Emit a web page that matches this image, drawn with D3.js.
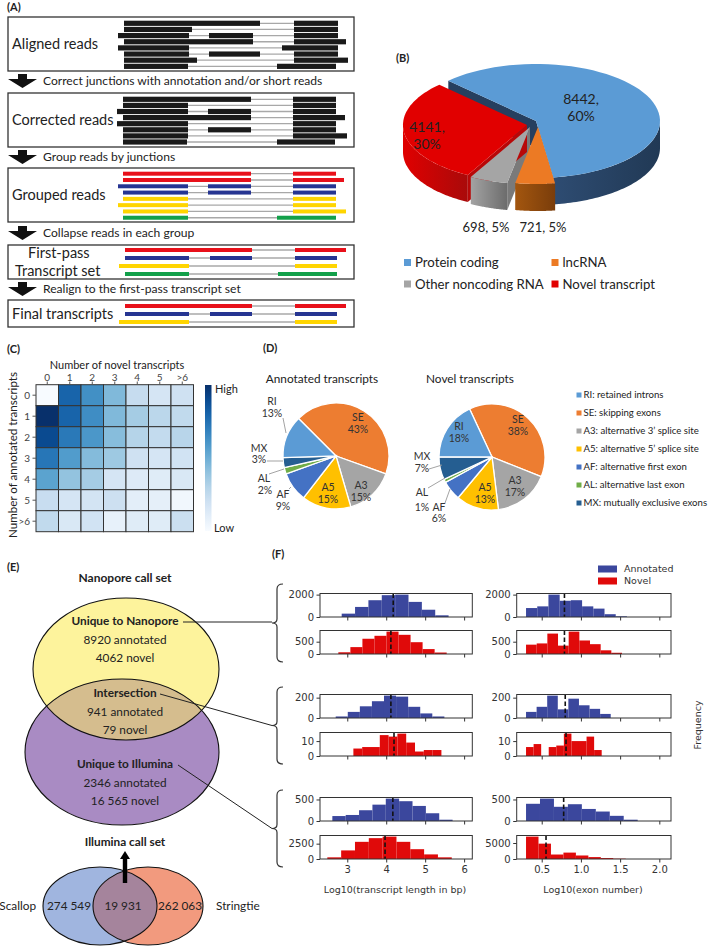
<!DOCTYPE html>
<html><head><meta charset="utf-8">
<script src="https://cdn.jsdelivr.net/npm/d3@7"></script>
<style>
body{margin:0;background:#fff}
svg{display:block}
text{font-family:Lato,'Open Sans',sans-serif;fill:#222}
.mpl text{font-family:'DejaVu Sans',sans-serif}
</style></head>
<body><svg id="c" width="709" height="947"></svg>
<script>
// ================= DATA =================
// Panel A: schematic reads (genome coordinates), grouped by step
const stepLabels = ["Correct junctions with annotation and/or short reads","Group reads by junctions","Collapse reads in each group","Realign to the first-pass transcript set"];
const boxLabels = [["Aligned reads"],["Corrected reads"],["Grouped reads"],["First-pass","Transcript set"],["Final transcripts"]];
const alignedReads = [
  ["k",[[12,148],[182,226]]],["k",[[12,80],[182,226]]],["k",[[6,77],[97,141],[182,226]]],["k",[[12,141],[182,234]]],
  ["k",[[6,77],[170,226]]],["k",[[12,77],[97,148],[182,226]]],["k",[[12,85],[182,236]]],["k",[[12,76],[165,224]]]];
const correctedReads = [
  ["k",[[11,139],[181,224]]],["k",[[11,76],[181,224]]],["k",[[5,76],[96,139],[181,224]]],["k",[[11,139],[181,233]]],
  ["k",[[5,76],[181,224]]],["k",[[11,76],[96,139],[181,224]]],["k",[[11,76],[181,235]]],["k",[[11,75],[165,223]]]];
const groupedReads = [
  ["r",[[11,139],[181,224]]],["r",[[11,139],[181,232]]],["b",[[6,76],[96,139],[181,224]]],["b",[[11,76],[96,139],[181,224]]],
  ["y",[[11,76],[181,224]]],["y",[[6,76],[181,224]]],["y",[[11,76],[181,234]]],["g",[[11,76],[165,224]]]];
const firstPassReads = [
  ["r",[[13,140],[183,234]]],["b",[[13,77],[98,140],[183,225]]],["y",[[7,77],[183,225]]],["g",[[13,77],[166,225]]]];
const finalReads = [
  ["r",[[13,140],[183,234]]],["b",[[13,77],[98,140],[183,225]]],["y",[[7,77],[183,225]]]];

// Panel B
const bCategories = ["Protein coding","lncRNA","Other noncoding RNA","Novel transcript"];
const bValues = [8442,721,698,4141];
const bPercent = ["60%","5%","5%","30%"];

// Panel C
const cTicks = ["0","1","2","3","4","5",">6"];
const cValues = [
  [0.00,0.80,0.63,0.45,0.24,0.17,0.20],
  [1.00,0.80,0.64,0.45,0.35,0.28,0.26],
  [0.90,0.72,0.60,0.43,0.30,0.25,0.29],
  [0.73,0.58,0.44,0.37,0.20,0.17,0.19],
  [0.55,0.40,0.35,0.17,0.13,0.12,0.15],
  [0.23,0.17,0.18,0.21,0.10,0.09,0.03],
  [0.26,0.15,0.19,0.08,0.12,0.12,0.22]];

// Panel D
const dCodes = ["SE","A3","A5","AF","AL","MX","RI"];
const dLegend = ["RI: retained introns","SE: skipping exons","A3: alternative 3\u2019 splice site","A5: alternative 5\u2019 splice site","AF: alternative first exon","AL: alternative last exon","MX: mutually exclusive exons"];
const dLegendCodes = ["RI","SE","A3","A5","AF","AL","MX"];
const dAnnotated = [43,15,15,9,2,3,13];
const dNovel = [38,17,13,6,1,7,18];

// Panel E
const eNanopore = ["Unique to Nanopore","8920 annotated","4062 novel"];
const eIntersection = ["Intersection","941 annotated","79 novel"];
const eIllumina = ["Unique to Illumina","2346 annotated","16 565 novel"];
const eBottom = ["Scallop","274 549","19 931","262 063","Stringtie"];

// Panel F (histograms; rows: Nanopore ann/novel, Intersection ann/novel, Illumina ann/novel)
const fLenStart = [2.857,2.771,2.703,3.157,2.617,2.488];
const fLenWidth = [0.343,0.309,0.310,0.226,0.343,0.355];
const fLenCounts = [
  [300,900,1500,1950,2000,1350,650,150],
  [70,280,620,740,910,780,480,200,60],
  [15,60,115,165,220,210,110,45,15],
  [5,6,6,14,13,15,9,3,4,4],
  [115,140,250,380,520,460,350,180,30],
  [270,1400,2800,3400,3650,2800,1600,750,270]];
const fLenMedian = [4.18,4.12,4.12,4.20,4.17,3.97];
const fExStart = [0.30,0.30,0.30,0.30,0.30,0.30];
const fExWidth = [0.143,0.136,0.135,0.0965,0.178,0.159];
const fExCounts = [
  [800,950,2000,1450,1500,950,750,250,60],
  [380,430,830,340,910,550,400,150,50],
  [60,110,220,85,190,125,90,40],
  [6,8,0,6,7,15,10,10,13,4],
  [400,520,330,390,280,220,120,30],
  [7000,4800,1400,2000,1100,600,300,100]];
const fExMedian = [0.79,0.79,0.80,0.81,0.78,0.555];
const fLenYTicks = [[0,2000],[0,500],[0,200],[0,10],[0,500],[0,2500]];
const fExYTicks = [[0,2000],[0,500],[0,200],[0,10],[0,500],[0,5000]];
const fLenXTicks = [3,4,5,6];
const fExXTicks = [0.5,1.0,1.5,2.0];
const fSeries = ["Annotated","Novel"];

// ================= DRAW =================
const svg = d3.select("#c");
const defs = svg.append("defs");
function txt(g,x,y,s,o={}){
  const t=g.append("text").attr("x",x).attr("y",y).attr("dy",o.dy||"0.35em").text(s)
   .attr("font-size",o.size||12).attr("text-anchor",o.anchor||"start");
  if(o.weight) t.attr("font-weight",o.weight);
  if(o.fill) t.style("fill",o.fill);
  if(o.rotate) t.attr("transform",`rotate(${o.rotate},${x},${y})`);
  return t;
}
function letter(x,y,s){txt(svg,x,y,s,{size:11,weight:"bold"});}

// ---------- Panel A ----------
letter(7,7,"(A)");
const A = svg.append("g");
const xg = d3.scaleLinear().domain([0,240]).range([112,352]);
const readColor = {k:"#1a1a1a",r:"#e8101a",b:"#263592",y:"#ffd500",g:"#12a04a"};
const boxTop=[17,93,168,245,300], boxBot=[71,147,222,279,327];
const rowTop=[23.3,99.3,173.7,250,306], rowStep=[6.15,6.1,6.29,8,8];
const readSets=[alignedReads,correctedReads,groupedReads,firstPassReads,finalReads];
readSets.forEach((set,bi)=>{
  A.append("rect").attr("x",8).attr("y",boxTop[bi]).attr("width",346).attr("height",boxBot[bi]-boxTop[bi])
   .attr("fill","none").attr("stroke","#333").attr("stroke-width",1.3);
  const ys=d3.scaleLinear().domain([0,1]).range([rowTop[bi],rowTop[bi]+rowStep[bi]]);
  set.forEach((rd,i)=>{
    const ex=rd[1], y=ys(i), hh=rd[0]==="k"?5.2:4;
    A.append("line").attr("x1",xg(ex[0][0])).attr("x2",xg(ex[ex.length-1][1])).attr("y1",y).attr("y2",y)
      .attr("stroke","#a8a8a8").attr("stroke-width",1.3);
    ex.forEach(e=>A.append("rect").attr("x",xg(e[0])).attr("width",xg(e[1])-xg(e[0])).attr("y",y-hh/2).attr("height",hh)
      .attr("fill",readColor[rd[0]]));
  });
  const lab=boxLabels[bi];
  const cy=(boxTop[bi]+boxBot[bi])/2;
  if(lab.length===1) txt(A,12,cy,lab[0],{size:14.5});
  else { txt(A,28,cy-9,lab[0],{size:14.5}); txt(A,15,cy+9,lab[1],{size:14.5}); }
});
const stepY=[81,157,233,289];
stepLabels.forEach((s,i)=>{
  const c=stepY[i];
  A.append("path").attr("d",`M18,${c-7}H27V${c-2}H37L22.5,${c+7}L8,${c-2}H18Z`).attr("fill","#111");
  txt(A,43,c,s,{size:12.1});
});

// ---------- Panel B (3D pie) ----------
letter(396,58,"(B)");
const B=svg.append("g");
const P={cx:532,cy:122,rx:124,ry:57,depth:27};
const bTop=["#5b9bd5","#ec7a24","#a5a5a5","#e10000"];
const bWall=[["#2e4c72","#213955"],["#a3560f","#7a3d0b"],["#a3a3a3","#6c6c6c"],["#e00000","#a90a0a"]];
const bCut=["#263f5f","#8a470d","#7a7a7a","#b80808"];
const bOff=[[4,-1],[6,5],[-2,5],[-5,3]];
bWall.forEach((w,i)=>{
  const lg=defs.append("linearGradient").attr("id","bw"+i).attr("x1","0").attr("x2","1").attr("y1","0").attr("y2","0");
  lg.append("stop").attr("offset","0").attr("stop-color",w[0]);
  lg.append("stop").attr("offset","1").attr("stop-color",w[1]);
});
const arcsB=d3.pie().sort(null).startAngle(-45*Math.PI/180).endAngle(315*Math.PI/180)(bValues);
const rim=(a,o,z)=>[P.cx+o[0]+P.rx*Math.sin(a), P.cy+o[1]-P.ry*Math.cos(a)+z];
const apex=(o,z)=>[P.cx+o[0],P.cy+o[1]+z];
const arcPts=(a0,a1,o,z)=>d3.range(0,61).map(k=>rim(a0+(a1-a0)*k/60,o,z));
const lineGen=d3.line();
// radial cut walls (only those facing the viewer)
arcsB.forEach((d,i)=>{
  const o=bOff[i], walls=[];
  if(Math.sin(d.startAngle)<0) walls.push(d.startAngle);
  if(Math.sin(d.endAngle)>0) walls.push(d.endAngle);
  walls.forEach(a=>B.append("path").attr("d",lineGen([apex(o,0),rim(a,o,0),rim(a,o,P.depth),apex(o,P.depth)])+"Z").attr("fill",bCut[i]));
});
// outer walls
arcsB.forEach((d,i)=>{
  const o=bOff[i];
  const lo=Math.max(d.startAngle,Math.PI/2), hi=Math.min(d.endAngle,3*Math.PI/2);
  if(hi<=lo) return;
  const pts=arcPts(lo,hi,o,0).concat(arcPts(lo,hi,o,P.depth).reverse());
  B.append("path").attr("d",lineGen(pts)+"Z").attr("fill",`url(#bw${i})`);
});
// top faces
arcsB.forEach((d,i)=>{
  const o=bOff[i];
  B.append("path").attr("d",lineGen([apex(o,0)].concat(arcPts(d.startAngle,d.endAngle,o,0)))+"Z").attr("fill",bTop[i]);
});
txt(B,581,99,bValues[0]+",",{size:14,anchor:"middle"});
txt(B,581,116,bPercent[0],{size:14,anchor:"middle"});
txt(B,427,127,bValues[3]+",",{size:14,anchor:"middle"});
txt(B,427,144,bPercent[3],{size:14,anchor:"middle"});
txt(B,486,227,bValues[2]+", "+bPercent[2],{size:13,anchor:"middle"});
txt(B,543,227,bValues[1]+", "+bPercent[1],{size:13,anchor:"middle"});
const bLegPos=[[404,262.5],[551.5,262.5],[404,284],[551.5,284]];
bCategories.forEach((c,i)=>{
  const p=bLegPos[i];
  B.append("rect").attr("x",p[0]).attr("y",p[1]-3.5).attr("width",7).attr("height",7).attr("fill",bTop[i]);
  txt(B,p[0]+11,p[1],c,{size:13.2});
});

// ---------- Panel C (heatmap) ----------
letter(7,349,"(C)");
const C=svg.append("g");
const cx=d3.scaleBand().domain(cTicks).range([36,193.5]);
const cy=d3.scaleBand().domain(cTicks).range([384.7,531.7]);
const cColor=v=>d3.interpolateBlues(v);
cValues.forEach((row,r)=>row.forEach((v,c)=>{
  C.append("rect").attr("x",cx(cTicks[c])).attr("y",cy(cTicks[r])).attr("width",cx.bandwidth()).attr("height",cy.bandwidth())
   .attr("fill",cColor(v)).attr("stroke","#333").attr("stroke-width",1);
}));
cTicks.forEach(t=>{
  const x=cx(t)+cx.bandwidth()/2;
  txt(C,x,377.5,t,{size:10,anchor:"middle",fill:"#444"});
  C.append("line").attr("x1",x).attr("x2",x).attr("y1",381.5).attr("y2",384.7).attr("stroke","#555");
  const y=cy(t)+cy.bandwidth()/2;
  txt(C,30,y,t,{size:10,anchor:"end",fill:"#444"});
  C.append("line").attr("x1",32.5).attr("x2",36).attr("y1",y).attr("y2",y).attr("stroke","#555");
});
txt(C,117,365,"Number of novel transcripts",{size:11,anchor:"middle"});
txt(C,13,455,"Number of annotated transcripts",{size:11.6,anchor:"middle",rotate:-90});
const cg=defs.append("linearGradient").attr("id","cbar").attr("x1","0").attr("x2","0").attr("y1","0").attr("y2","1");
d3.range(0,1.01,0.1).forEach(t=>cg.append("stop").attr("offset",t).attr("stop-color",cColor(1-t)));
C.append("rect").attr("x",205).attr("y",385).attr("width",6.5).attr("height",146).attr("fill","url(#cbar)");
txt(C,215,389,"High",{size:11});
txt(C,214,528,"Low",{size:11});

// ---------- Panel D (pies) ----------
letter(263,348,"(D)");
const D=svg.append("g");
const dColor=d3.scaleOrdinal().domain(["RI","SE","A3","A5","AF","AL","MX"])
  .range(["#5b9bd5","#ed7d31","#a5a5a5","#ffc000","#4472c4","#70ad47","#255e91"]);
function pieD(vals,cxp,cyp,start,title,titleX,inside,outside){
  const g=D.append("g").attr("transform",`translate(${cxp},${cyp})`);
  const arcs=d3.pie().sort(null).startAngle(start*Math.PI/180).endAngle((start+360)*Math.PI/180)(vals);
  const arc=d3.arc().innerRadius(0).outerRadius(53);
  g.selectAll("path").data(arcs).join("path").attr("d",arc).attr("fill",(d,i)=>dColor(dCodes[i]))
    .attr("stroke","#fff").attr("stroke-width",1.3);
  txt(D,titleX,379,title,{size:11.8,anchor:"middle"});
  inside.forEach(l=>{const i=dCodes.indexOf(l[0]);
    txt(D,l[1],l[2],dCodes[i],{size:10.5,anchor:"middle",fill:"#333"});
    txt(D,l[1],l[2]+12,vals[i]+"%",{size:10.5,anchor:"middle",fill:"#333"});});
  outside.forEach(l=>{const i=dCodes.indexOf(l[0]);
    txt(D,l[1],l[2],dCodes[i],{size:10.5,anchor:"middle",fill:"#333"});
    txt(D,l[3],l[4],vals[i]+"%",{size:10.5,anchor:"middle",fill:"#333"});
    D.append("polyline").attr("points",l[5]).attr("fill","none").attr("stroke","#999").attr("stroke-width",0.9);});
}
pieD(dAnnotated,336,456,-45,"Annotated transcripts",322,
  [["SE",358,417],["A3",361,485],["A5",328,487]],
  [["RI",272,401,272,413,"283,418 286,433"],["MX",259,448,259,459,"267,461 283,461"],
   ["AL",264,478,265,490,"269,474 284,469"],["AF",283,494,283,506,"289,489 291,487"]]);
pieD(dNovel,492,457,-25,"Novel transcripts",470,
  [["RI",459,426],["SE",518,419],["A3",515,480],["A5",485,487]],
  [["MX",422,456,422,468,"429,469 442,465"],["AL",422,492,422,507,"428,488 445,478"],
   ["AF",439,507,439,518,"445,503 450,489"]]);
dLegend.forEach((s,i)=>{
  const y=395+i*18;
  D.append("rect").attr("x",576.5).attr("y",y-2.5).attr("width",5).attr("height",5).attr("fill",dColor(dLegendCodes[i]));
  txt(D,583.5,y,s,{size:9.6});
});

// ---------- Panel E (Venn) ----------
letter(7,567,"(E)");
const E=svg.append("g");
txt(E,125,578,"Nanopore call set",{size:12,anchor:"middle",weight:"bold"});
const yel={cx:126,cy:669,rx:93,ry:71}, pur={cx:122,cy:752,rx:97,ry:73};
defs.append("clipPath").attr("id","clipY").append("ellipse").attr("cx",yel.cx).attr("cy",yel.cy).attr("rx",yel.rx).attr("ry",yel.ry);
E.append("ellipse").attr("cx",yel.cx).attr("cy",yel.cy).attr("rx",yel.rx).attr("ry",yel.ry).attr("fill","#fdf39c");
E.append("ellipse").attr("cx",pur.cx).attr("cy",pur.cy).attr("rx",pur.rx).attr("ry",pur.ry).attr("fill","#a98bc3");
E.append("ellipse").attr("cx",pur.cx).attr("cy",pur.cy).attr("rx",pur.rx).attr("ry",pur.ry).attr("fill","#d5bd8e").attr("clip-path","url(#clipY)");
[yel,pur].forEach(e=>E.append("ellipse").attr("cx",e.cx).attr("cy",e.cy).attr("rx",e.rx).attr("ry",e.ry).attr("fill","none").attr("stroke","#111").attr("stroke-width",1.1));
[[eNanopore,621],[eIntersection,693],[eIllumina,764]].forEach(([arr,y0])=>{
  arr.forEach((s,i)=>txt(E,125,y0+i*18.5,s,{size:11.8,anchor:"middle",weight:i===0?"bold":null}));
});
[[183,622,272,622],[160,694,272,725.5],[178,765,272,828.5]].forEach(l=>
  E.append("line").attr("x1",l[0]).attr("y1",l[1]).attr("x2",l[2]).attr("y2",l[3]).attr("stroke","#222").attr("stroke-width",1));
txt(E,125,842,"Illumina call set",{size:11.8,anchor:"middle",weight:"bold"});
const sc={cx:100,cy:906,rx:57,ry:39}, st={cx:148,cy:906,rx:55,ry:39};
defs.append("clipPath").attr("id","clipS").append("ellipse").attr("cx",sc.cx).attr("cy",sc.cy).attr("rx",sc.rx).attr("ry",sc.ry);
E.append("ellipse").attr("cx",sc.cx).attr("cy",sc.cy).attr("rx",sc.rx).attr("ry",sc.ry).attr("fill","#a0b5df");
E.append("ellipse").attr("cx",st.cx).attr("cy",st.cy).attr("rx",st.rx).attr("ry",st.ry).attr("fill","#f29a7e");
E.append("ellipse").attr("cx",st.cx).attr("cy",st.cy).attr("rx",st.rx).attr("ry",st.ry).attr("fill","#a5849c").attr("clip-path","url(#clipS)");
[sc,st].forEach(e=>E.append("ellipse").attr("cx",e.cx).attr("cy",e.cy).attr("rx",e.rx).attr("ry",e.ry).attr("fill","none").attr("stroke","#111").attr("stroke-width",1.1));
E.append("path").attr("d","M122.8,883V859H120L125,851L130,859H127.2V883Z").attr("fill","#000");
txt(E,36,906,eBottom[0],{size:11.8,anchor:"end"});
txt(E,69,906,eBottom[1],{size:11.8,anchor:"middle"});
txt(E,123,906,eBottom[2],{size:11.8,anchor:"middle"});
txt(E,180,906,eBottom[3],{size:11.8,anchor:"middle"});
txt(E,216,906,eBottom[4],{size:11.8,anchor:"start"});

// ---------- Panel F (histograms) ----------
letter(272,554,"(F)");
const F=svg.append("g").attr("class","mpl");
const fColors=["#3b479d","#e00a0a"];
fSeries.forEach((s,i)=>{
  F.append("rect").attr("x",598).attr("y",565.5+i*12).attr("width",19).attr("height",7).attr("fill",fColors[i]);
  txt(F,624,569+i*12,s,{size:9.5,fill:"#333"});
});
const rowTops=[593.5,630.5,694.5,732.5,797.5,835.5], axH=23.5;
const colX=[[320,472.3],[516.7,671]];
const colDom=[[2.3,6.21],[0.181,2.149]];
function histo(ci,ri,start,width,counts,median,yticks,xticks){
  const xs=d3.scaleLinear().domain(colDom[ci]).range(colX[ci]);
  const ymax=d3.max(counts)*1.05;
  const ys=d3.scaleLinear().domain([0,ymax]).range([rowTops[ri]+axH,rowTops[ri]]);
  const g=F.append("g");
  const col=fColors[ri%2];
  counts.forEach((c,i)=>{
    if(c<=0) return;
    const x0=xs(start+i*width), x1=xs(start+(i+1)*width);
    g.append("rect").attr("x",x0).attr("width",x1-x0).attr("y",ys(c)).attr("height",ys(0)-ys(c)).attr("fill",col);
  });
  g.append("line").attr("x1",xs(median)).attr("x2",xs(median)).attr("y1",rowTops[ri]).attr("y2",rowTops[ri]+axH)
    .attr("stroke","#111").attr("stroke-width",1.6).attr("stroke-dasharray","4.5,2.5");
  g.append("rect").attr("x",colX[ci][0]).attr("y",rowTops[ri]).attr("width",colX[ci][1]-colX[ci][0]).attr("height",axH)
    .attr("fill","none").attr("stroke","#333").attr("stroke-width",1);
  const ya=g.append("g").attr("transform",`translate(${colX[ci][0]},0)`)
    .call(d3.axisLeft(ys).tickValues(yticks).tickSize(3.5).tickPadding(2.5).tickFormat(d3.format("d")));
  ya.select(".domain").remove();
  ya.selectAll("text").attr("font-size",10).style("fill","#333");
  ya.selectAll("line").attr("stroke","#333");
  const xa=g.append("g").attr("transform",`translate(0,${rowTops[ri]+axH})`)
    .call(d3.axisBottom(xs).tickValues(xticks).tickSize(3.5).tickPadding(3).tickFormat(ri===5?(ci===0?d3.format("d"):d3.format(".1f")):""));
  xa.select(".domain").remove();
  xa.selectAll("text").attr("font-size",10).style("fill","#333");
  xa.selectAll("line").attr("stroke","#333");
}
for(let r=0;r<6;r++){
  histo(0,r,fLenStart[r],fLenWidth[r],fLenCounts[r],fLenMedian[r],fLenYTicks[r],fLenXTicks);
  histo(1,r,fExStart[r],fExWidth[r],fExCounts[r],fExMedian[r],fExYTicks[r],fExXTicks);
}
txt(F,395,890,"Log10(transcript length in bp)",{size:9.5,anchor:"middle",fill:"#333"});
txt(F,593,890,"Log10(exon number)",{size:9.5,anchor:"middle",fill:"#333"});
txt(F,698,725,"Frequency",{size:9.5,anchor:"middle",fill:"#333",rotate:-90});
[[584,662],[687,764],[790,867]].forEach(([a,b])=>{
  const m=(a+b)/2;
  F.append("path").attr("d",`M283,${a}Q277,${a} 277,${a+5}V${m-4}Q277,${m} 272,${m}Q277,${m} 277,${m+4}V${b-5}Q277,${b} 283,${b}`)
   .attr("fill","none").attr("stroke","#333").attr("stroke-width",1.2);
});
</script></body></html>
